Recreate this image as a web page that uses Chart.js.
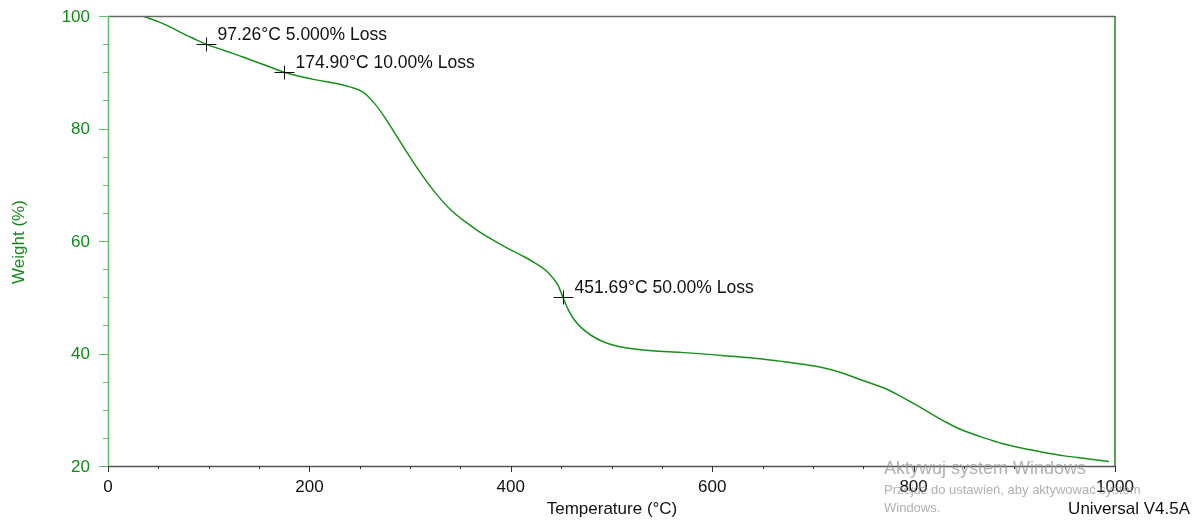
<!DOCTYPE html>
<html>
<head>
<meta charset="utf-8">
<style>
  html, body { margin: 0; padding: 0; background: #ffffff; }
  #wrap { position: relative; width: 1201px; height: 522px; }
  canvas { display: block; }
</style>
<script src="https://cdn.jsdelivr.net/npm/chart.js@4/dist/chart.umd.min.js"></script>
</head>
<body>
<div id="wrap"><canvas id="tga" width="1201" height="522"></canvas></div>
<script>
// TGA weight-loss curve: temperature (°C) vs. residual weight (%)
const temperature = [35, 42, 50, 60, 72, 85, 97.26, 110, 124, 140, 157, 174.9, 190, 208, 224, 240, 253, 264, 274, 291, 310, 325, 340, 355, 370, 385, 397, 410, 423, 437, 447, 451.69, 457, 463, 470, 480, 493, 506, 519, 540, 569, 600, 619, 645, 669, 690, 709, 730, 751, 770, 785, 797, 808, 820, 831, 843, 854, 870, 888, 907, 927, 950, 972, 994];
const weight      = [100, 99.5, 99.0, 98.2, 97.1, 96.0, 95.0, 94.2, 93.35, 92.3, 91.2, 90.0, 89.3, 88.6, 88.1, 87.4, 86.5, 84.6, 82.2, 77.4, 72.2, 68.6, 65.6, 63.4, 61.5, 59.9, 58.7, 57.5, 56.2, 54.4, 52.1, 50.0, 47.8, 46.0, 44.6, 43.2, 42.0, 41.3, 40.9, 40.5, 40.2, 39.8, 39.5, 39.1, 38.6, 38.1, 37.5, 36.5, 35.1, 33.9, 32.6, 31.4, 30.3, 29.0, 27.9, 26.8, 26.0, 25.0, 24.0, 23.2, 22.5, 21.8, 21.3, 20.8];

// Marked loss points and their annotation text
const markTemps   = [97.26, 174.90, 451.69];
const markWeights = [95.0, 90.0, 50.0];
const markLabels  = ['97.26°C 5.000% Loss', '174.90°C 10.00% Loss', '451.69°C 50.00% Loss'];

const xTickLabels = [0, 200, 400, 600, 800, 1000];
const yTickLabels = [20, 40, 60, 80, 100];

const FONT = '"Liberation Sans", Arial, sans-serif';
const GREEN_CURVE = '#17901a';
const GREEN_TEXT = '#13891a';
const GREEN_AXIS = '#62be62';

// Axes ticks, frame, annotations and titles
const decorations = {
  id: 'decorations',
  afterDraw(chart) {
    const ctx = chart.ctx;
    const xs = chart.scales.x, ys = chart.scales.y;
    const a = chart.chartArea;
    ctx.save();

    // top frame line
    ctx.strokeStyle = '#666666';
    ctx.lineWidth = 1.5;
    ctx.beginPath(); ctx.moveTo(a.left, a.top + 0.5); ctx.lineTo(a.right, a.top + 0.5); ctx.stroke();
    // right frame line
    ctx.strokeStyle = '#2a7f2a';
    ctx.lineWidth = 1.5;
    ctx.beginPath(); ctx.moveTo(a.right, a.top); ctx.lineTo(a.right, a.bottom); ctx.stroke();
    // x axis line
    ctx.strokeStyle = '#555555';
    ctx.lineWidth = 1.5;
    ctx.beginPath(); ctx.moveTo(a.left, a.bottom + 0.5); ctx.lineTo(a.right, a.bottom + 0.5); ctx.stroke();
    // y axis line
    ctx.strokeStyle = GREEN_AXIS;
    ctx.lineWidth = 1.5;
    ctx.beginPath(); ctx.moveTo(a.left + 0.5, a.top); ctx.lineTo(a.left + 0.5, a.bottom + 1); ctx.stroke();

    // x ticks every 50, major every 200
    ctx.strokeStyle = '#333333';
    ctx.lineWidth = 1;
    for (let v = 0; v <= 1000; v += 50) {
      const px = Math.round(xs.getPixelForValue(v)) + 0.5;
      const len = (v % 200 === 0) ? 6 : 3;
      ctx.beginPath(); ctx.moveTo(px, a.bottom); ctx.lineTo(px, a.bottom + len); ctx.stroke();
    }
    // y ticks every 5, major every 20
    ctx.strokeStyle = GREEN_AXIS;
    for (let v = 20; v <= 100; v += 5) {
      const py = Math.round(ys.getPixelForValue(v)) + 0.5;
      const len = (v % 20 === 0) ? 9 : 5;
      ctx.beginPath(); ctx.moveTo(a.left - len, py); ctx.lineTo(a.left, py); ctx.stroke();
    }

    // tick labels
    ctx.font = '17px ' + FONT;
    ctx.fillStyle = '#111111';
    ctx.textAlign = 'center';
    ctx.textBaseline = 'middle';
    xTickLabels.forEach(v => ctx.fillText(String(v), xs.getPixelForValue(v), 487));
    ctx.fillStyle = GREEN_TEXT;
    ctx.textAlign = 'right';
    yTickLabels.forEach(v => ctx.fillText(String(v), 90, ys.getPixelForValue(v) + 1));

    // axis titles
    ctx.fillStyle = '#111111';
    ctx.textAlign = 'center';
    ctx.fillText('Temperature (°C)', 612, 509);
    ctx.save();
    ctx.translate(19, 242);
    ctx.rotate(-Math.PI / 2);
    ctx.fillStyle = GREEN_TEXT;
    ctx.fillText('Weight (%)', 0, 0);
    ctx.restore();

    // software version label
    ctx.fillStyle = '#111111';
    ctx.textAlign = 'right';
    ctx.fillText('Universal V4.5A', 1190, 509);

    // loss markers (crosses) and labels
    ctx.strokeStyle = '#111111';
    ctx.lineWidth = 1;
    markTemps.forEach((t, i) => {
      const px = Math.round(xs.getPixelForValue(t)) + 0.5;
      const py = Math.round(ys.getPixelForValue(markWeights[i])) + 0.5;
      ctx.beginPath();
      ctx.moveTo(px - 10, py); ctx.lineTo(px + 10, py);
      ctx.moveTo(px, py - 7); ctx.lineTo(px, py + 7);
      ctx.stroke();
      ctx.fillStyle = '#111111';
      ctx.textAlign = 'left';
      ctx.font = '17.5px ' + FONT;
      ctx.fillText(markLabels[i], px + 11, py - 9);
    });

    // system overlay text
    ctx.fillStyle = 'rgba(150,150,150,0.75)';
    ctx.textAlign = 'left';
    ctx.font = '18px ' + FONT;
    ctx.fillText('Aktywuj system Windows', 884, 469);
    ctx.font = '13px ' + FONT;
    ctx.fillText('Przejdź do ustawień, aby aktywować system', 884, 490);
    ctx.fillText('Windows.', 884, 508);

    ctx.restore();
  }
};

const points = temperature.map((t, i) => ({ x: t, y: weight[i] }));

new Chart(document.getElementById('tga'), {
  type: 'line',
  data: {
    datasets: [{
      data: points,
      borderColor: GREEN_CURVE,
      borderWidth: 1.5,
      pointRadius: 0,
      fill: false,
      cubicInterpolationMode: 'monotone'
    }]
  },
  options: {
    responsive: false,
    animation: false,
    devicePixelRatio: 1,
    layout: { padding: { left: 0, top: 16, right: 86, bottom: 0 } },
    plugins: { legend: { display: false }, tooltip: { enabled: false } },
    scales: {
      x: {
        type: 'linear', min: 0, max: 1000,
        grid: { display: false, drawTicks: false },
        border: { display: false },
        ticks: { display: false },
        afterFit(scale) { scale.height = 56; }
      },
      y: {
        type: 'linear', min: 20, max: 100,
        grid: { display: false, drawTicks: false },
        border: { display: false },
        ticks: { display: false },
        afterFit(scale) { scale.width = 108; }
      }
    }
  },
  plugins: [decorations]
});
</script>
</body>
</html>
